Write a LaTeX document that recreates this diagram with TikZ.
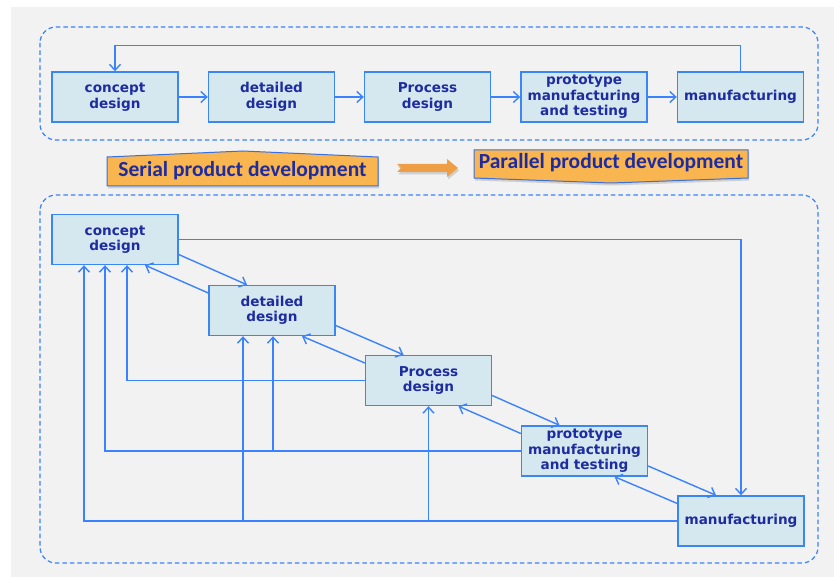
\documentclass[tikz,border=0pt]{standalone}
\usepackage{fontspec}
\setmainfont{DejaVu Sans}
\newfontfamily\bannerfont{Carlito}
\usepackage{tikz}
\usetikzlibrary{arrows.meta,shadows}
\definecolor{pagebg}{HTML}{F2F2F2}
\definecolor{boxfill}{HTML}{D5E8F0}
\definecolor{boxline}{HTML}{3A86F5}
\definecolor{linkblue}{HTML}{3A82FF}
\definecolor{textblue}{HTML}{1E2CA0}
\definecolor{bannerfill}{HTML}{F8B550}
\definecolor{bannerline}{HTML}{3A6FE0}
\definecolor{arrowfill}{HTML}{EE9E45}

\begin{document}
\begin{tikzpicture}[x=1pt, y=-1pt,
  stagebox/.style={rectangle, draw=boxline, fill=boxfill, line width=1.4pt, minimum width=126pt, minimum height=50pt, inner sep=1pt, align=center, text=textblue, font=\bfseries\fontsize{13.6}{15.5}\selectfont},
  link/.style={draw=linkblue, line width=1.4pt, -{Straight Barb[length=6pt,width=11pt]}},
  panel/.style={draw=linkblue, line width=1.2pt, dash pattern=on 4.5pt off 3pt, rounded corners=16pt},
  banner/.style={fill=bannerfill, draw=bannerline, line width=1pt, drop shadow={opacity=0.3, shadow xshift=1pt, shadow yshift=-2.5pt}},
  bannertext/.style={text=textblue, font=\bannerfont\bfseries\fontsize{21.5}{24}\selectfont}
]
  \useasboundingbox (0,0) rectangle (834,577);
  \fill[pagebg] (11,7) rectangle (834,577);

  % serial development
  \draw[panel] (40,27) rectangle (818,140);
  \node[stagebox] (concept1) at (115,97) {concept\\design};
  \node[stagebox] (detail1) at (271.5,97) {detailed\\design};
  \node[stagebox] (process1) at (427.5,97) {Process\\design};
  \node[stagebox] (proto1) at (584,97) {prototype\\manufacturing\\and testing};
  \node[stagebox] (manu1) at (740.5,97) {manufacturing};
  \foreach \a/\b in {concept1/detail1, detail1/process1, process1/proto1, proto1/manu1}
    \draw[link] (\a.east) -- (\b.west);
  \draw[link] (manu1.north) -- ++(0,-26) -| (concept1.north);

  % banners
  \path[banner] (107,157) -- (243,151) -- (378,157) -- (378,186) -- (107,186) -- cycle;
  \node[bannertext] (serial) at (242.5,171) {Serial product development};
  \path[banner] (474,150) -- (748,150) -- (748,178) -- (611,183) -- (474,178) -- cycle;
  \node[bannertext] (parallel) at (611,163) {Parallel product development};
  \path[fill=arrowfill, drop shadow={opacity=0.3, shadow xshift=1pt, shadow yshift=-2.5pt}]
    (397,164) -- (447,164) -- (447,159) -- (458,168) -- (447,177) -- (447,172) -- (397,172) -- (401,168) -- cycle;

  % parallel development
  \draw[panel] (40,195) rectangle (818,563);
  \node[stagebox] (concept2) at (115,239.5) {concept\\design};
  \node[stagebox] (detail2) at (272,310.5) {detailed\\design};
  \node[stagebox] (process2) at (428.5,380.5) {Process\\design};
  \node[stagebox] (proto2) at (584.5,451) {prototype\\manufacturing\\and testing};
  \node[stagebox] (manu2) at (741,521) {manufacturing};

  \foreach \a/\b in {concept2/detail2, detail2/process2, process2/proto2, proto2/manu2} {
    \draw[link] ([yshift=-15pt]\a.east) -- ([xshift=-25pt]\b.north);
    \draw[link] ([yshift=17.5pt]\b.west) -- ([xshift=30pt]\a.south);
  }
  \draw[link] (concept2.east) -| (manu2.north);

  \coordinate (c1) at ([xshift=-31pt]concept2.south);
  \coordinate (c2) at ([xshift=-10pt]concept2.south);
  \coordinate (c3) at ([xshift=12pt]concept2.south);
  \coordinate (d1) at ([xshift=-29pt]detail2.south);
  \coordinate (d2) at ([xshift=1pt]detail2.south);
  \coordinate (p1) at (process2.south);
  \draw[link] (process2.west) -| (c3);
  \draw[link] (proto2.west) -| (c2);
  \draw[link] (d2 |- proto2.west) -- (d2);
  \draw[link] (manu2.west) -| (c1);
  \draw[link] (d1 |- manu2.west) -- (d1);
  \draw[link] (p1 |- manu2.west) -- (p1);
\end{tikzpicture}
\end{document}
